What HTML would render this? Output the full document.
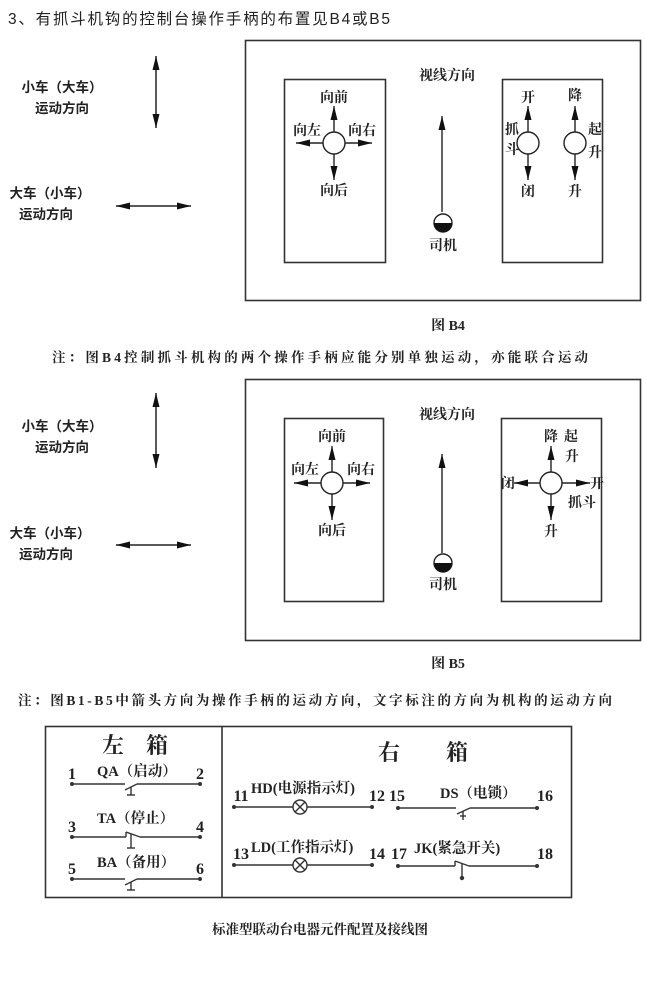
<!DOCTYPE html>
<html><head><meta charset="utf-8"><style>
html,body{margin:0;padding:0;background:#fff;}
svg{display:block;}
text{font-family:"Liberation Serif","Noto Serif CJK SC","Noto Sans CJK SC",serif;fill:#222;}
.s{font-family:"Liberation Sans","Noto Sans CJK SC",sans-serif;}
.b{font-weight:bold;}
</style></head><body>
<svg width="646" height="1000" viewBox="0 0 646 1000" xmlns="http://www.w3.org/2000/svg">
<defs>
<marker id="a" viewBox="0 0 12 6" refX="12" refY="3" markerWidth="16" markerHeight="7" orient="auto-start-reverse" markerUnits="userSpaceOnUse"><path d="M0,0 L12,3 L0,6 Z" fill="#111"/></marker>
<marker id="a2" viewBox="0 0 12 6" refX="12" refY="3" markerWidth="18" markerHeight="7" orient="auto-start-reverse" markerUnits="userSpaceOnUse"><path d="M0,0 L12,3 L0,6 Z" fill="#111"/></marker>
</defs>
<text x="8" y="24" class="s" font-size="15.5" textLength="382">3、有抓斗机钩的控制台操作手柄的布置见B4或B5</text>

<!-- B4 -->
<g>
<text x="62" y="92" font-size="13.5" text-anchor="middle" class="s b">小车（大车）</text>
<text x="62" y="113" font-size="13.5" text-anchor="middle" class="s b">运动方向</text>
<line x1="156" y1="56" x2="156" y2="128" stroke="#222" stroke-width="1.5" marker-start="url(#a)" marker-end="url(#a)"/>
<text x="50" y="198" font-size="13.5" text-anchor="middle" class="s b">大车（小车）</text>
<text x="46" y="219" font-size="13.5" text-anchor="middle" class="s b">运动方向</text>
<line x1="116" y1="206" x2="191" y2="206" stroke="#222" stroke-width="1.5" marker-start="url(#a)" marker-end="url(#a)"/>

<rect x="245.5" y="40.5" width="395" height="260" fill="none" stroke="#333" stroke-width="1.6"/>
<rect x="284.5" y="79.5" width="101" height="183" fill="none" stroke="#333" stroke-width="1.6"/>
<rect x="502.5" y="79.5" width="100" height="183" fill="none" stroke="#333" stroke-width="1.6"/>
<text x="447" y="80" font-size="14" text-anchor="middle" class="b">视线方向</text>
<line x1="442" y1="212" x2="442" y2="116" stroke="#222" stroke-width="1.4" marker-end="url(#a2)"/>
<circle cx="443" cy="223" r="9" fill="#fff" stroke="#222" stroke-width="1.4"/>
<path d="M434,223 A9,9 0 0 0 452,223 Z" fill="#111"/>
<text x="443" y="250" font-size="14" text-anchor="middle" class="b">司机</text>

<circle cx="334" cy="143" r="11" fill="#fff" stroke="#222" stroke-width="1.4"/>
<line x1="334" y1="132" x2="334" y2="106" stroke="#222" stroke-width="1.4" marker-end="url(#a2)"/>
<line x1="334" y1="154" x2="334" y2="180" stroke="#222" stroke-width="1.4" marker-end="url(#a2)"/>
<line x1="323" y1="143" x2="296" y2="143" stroke="#222" stroke-width="1.4" marker-end="url(#a2)"/>
<line x1="345" y1="143" x2="372" y2="143" stroke="#222" stroke-width="1.4" marker-end="url(#a2)"/>
<text x="334" y="102" font-size="14" text-anchor="middle" class="b">向前</text>
<text x="307" y="135" font-size="14" text-anchor="middle" class="b">向左</text>
<text x="362" y="135" font-size="14" text-anchor="middle" class="b">向右</text>
<text x="334" y="195" font-size="14" text-anchor="middle" class="b">向后</text>

<circle cx="528" cy="143" r="11" fill="#fff" stroke="#222" stroke-width="1.4"/>
<line x1="528" y1="132" x2="528" y2="106" stroke="#222" stroke-width="1.4" marker-end="url(#a2)"/>
<line x1="528" y1="154" x2="528" y2="180" stroke="#222" stroke-width="1.4" marker-end="url(#a2)"/>
<text x="528" y="102" font-size="14" text-anchor="middle" class="b">开</text>
<text x="512" y="134" font-size="14" text-anchor="middle" class="b">抓</text>
<text x="512" y="154" font-size="14" text-anchor="middle" class="b">斗</text>
<text x="528" y="196" font-size="14" text-anchor="middle" class="b">闭</text>
<circle cx="575" cy="143" r="11" fill="#fff" stroke="#222" stroke-width="1.4"/>
<line x1="575" y1="132" x2="575" y2="106" stroke="#222" stroke-width="1.4" marker-end="url(#a2)"/>
<line x1="575" y1="154" x2="575" y2="180" stroke="#222" stroke-width="1.4" marker-end="url(#a2)"/>
<text x="575" y="100" font-size="14" text-anchor="middle" class="b">降</text>
<text x="595" y="134" font-size="14" text-anchor="middle" class="b">起</text>
<text x="595" y="157" font-size="14" text-anchor="middle" class="b">升</text>
<text x="575" y="196" font-size="14" text-anchor="middle" class="b">升</text>

<text x="448" y="330" font-size="14" text-anchor="middle" class="b">图 B4</text>
<text x="52" y="362" font-size="13.5" class="b" textLength="536">注：图B4控制抓斗机构的两个操作手柄应能分别单独运动，亦能联合运动</text>
</g>

<!-- B5 -->
<g>
<text x="62" y="431" font-size="13.5" text-anchor="middle" class="s b">小车（大车）</text>
<text x="62" y="452" font-size="13.5" text-anchor="middle" class="s b">运动方向</text>
<line x1="156" y1="393" x2="156" y2="468" stroke="#222" stroke-width="1.5" marker-start="url(#a)" marker-end="url(#a)"/>
<text x="50" y="538" font-size="13.5" text-anchor="middle" class="s b">大车（小车）</text>
<text x="46" y="559" font-size="13.5" text-anchor="middle" class="s b">运动方向</text>
<line x1="116" y1="545" x2="191" y2="545" stroke="#222" stroke-width="1.5" marker-start="url(#a)" marker-end="url(#a)"/>

<rect x="245.5" y="379.5" width="395" height="261" fill="none" stroke="#333" stroke-width="1.6"/>
<rect x="284.5" y="418.5" width="99" height="183" fill="none" stroke="#333" stroke-width="1.6"/>
<rect x="501.5" y="418.5" width="100" height="183" fill="none" stroke="#333" stroke-width="1.6"/>
<text x="447" y="419" font-size="14" text-anchor="middle" class="b">视线方向</text>
<line x1="442" y1="553" x2="442" y2="454" stroke="#222" stroke-width="1.4" marker-end="url(#a2)"/>
<circle cx="443" cy="563" r="9" fill="#fff" stroke="#222" stroke-width="1.4"/>
<path d="M434,563 A9,9 0 0 0 452,563 Z" fill="#111"/>
<text x="443" y="589" font-size="14" text-anchor="middle" class="b">司机</text>

<circle cx="332" cy="483" r="11" fill="#fff" stroke="#222" stroke-width="1.4"/>
<line x1="332" y1="472" x2="332" y2="446" stroke="#222" stroke-width="1.4" marker-end="url(#a2)"/>
<line x1="332" y1="494" x2="332" y2="520" stroke="#222" stroke-width="1.4" marker-end="url(#a2)"/>
<line x1="321" y1="483" x2="294" y2="483" stroke="#222" stroke-width="1.4" marker-end="url(#a2)"/>
<line x1="343" y1="483" x2="370" y2="483" stroke="#222" stroke-width="1.4" marker-end="url(#a2)"/>
<text x="332" y="441" font-size="14" text-anchor="middle" class="b">向前</text>
<text x="305" y="474" font-size="14" text-anchor="middle" class="b">向左</text>
<text x="361" y="474" font-size="14" text-anchor="middle" class="b">向右</text>
<text x="332" y="535" font-size="14" text-anchor="middle" class="b">向后</text>

<circle cx="551" cy="483" r="11" fill="#fff" stroke="#222" stroke-width="1.4"/>
<line x1="551" y1="472" x2="551" y2="446" stroke="#222" stroke-width="1.4" marker-end="url(#a2)"/>
<line x1="551" y1="494" x2="551" y2="520" stroke="#222" stroke-width="1.4" marker-end="url(#a2)"/>
<line x1="540" y1="483" x2="514" y2="483" stroke="#222" stroke-width="1.4" marker-end="url(#a2)"/>
<line x1="562" y1="483" x2="590" y2="483" stroke="#222" stroke-width="1.4" marker-end="url(#a2)"/>
<text x="551" y="441" font-size="14" text-anchor="middle" class="b">降</text>
<text x="571" y="441" font-size="14" text-anchor="middle" class="b">起</text>
<text x="572" y="461" font-size="14" text-anchor="middle" class="b">升</text>
<text x="508" y="488" font-size="14" text-anchor="middle" class="b">闭</text>
<text x="597" y="488" font-size="14" text-anchor="middle" class="b">开</text>
<text x="582" y="507" font-size="14" text-anchor="middle" class="b">抓斗</text>
<text x="551" y="536" font-size="14" text-anchor="middle" class="b">升</text>

<text x="448" y="668" font-size="14" text-anchor="middle" class="b">图 B5</text>
<text x="18" y="705" font-size="13.5" class="b" textLength="594">注：图B1-B5中箭头方向为操作手柄的运动方向，文字标注的方向为机构的运动方向</text>
</g>

<!-- electrical -->
<g stroke="#333" stroke-width="1.4" fill="none">
<rect x="45.5" y="726.5" width="526" height="171" stroke-width="1.6"/>
<line x1="222" y1="726" x2="222" y2="898" stroke-width="1.6"/>
<line x1="72" y1="784" x2="125" y2="784"/><line x1="125" y1="790" x2="137" y2="784"/><line x1="137" y1="784" x2="200" y2="784"/>
<line x1="131" y1="787" x2="131" y2="795"/><line x1="127" y1="795" x2="135" y2="795"/>
<line x1="72" y1="837" x2="126" y2="837"/><line x1="126" y1="832" x2="140" y2="837"/><line x1="126" y1="832" x2="126" y2="837"/><line x1="140" y1="837" x2="200" y2="837"/>
<line x1="131" y1="834" x2="131" y2="848"/><line x1="127" y1="848" x2="135" y2="848"/>
<line x1="72" y1="879" x2="125" y2="879"/><line x1="125" y1="885" x2="137" y2="879"/><line x1="137" y1="879" x2="200" y2="879"/>
<line x1="131" y1="882" x2="131" y2="890"/><line x1="127" y1="890" x2="135" y2="890"/>
<line x1="234" y1="807" x2="293" y2="807"/><circle cx="300" cy="807" r="7"/><line x1="295" y1="802" x2="305" y2="812"/><line x1="305" y1="802" x2="295" y2="812"/><line x1="307" y1="807" x2="372" y2="807"/>
<line x1="234" y1="865" x2="293" y2="865"/><circle cx="300" cy="865" r="7"/><line x1="295" y1="860" x2="305" y2="870"/><line x1="305" y1="860" x2="295" y2="870"/><line x1="307" y1="865" x2="372" y2="865"/>
<line x1="398" y1="808" x2="456" y2="808"/><line x1="457" y1="814" x2="470" y2="808"/><line x1="470" y1="808" x2="537" y2="808"/>
<line x1="463" y1="811" x2="463" y2="820"/><line x1="460" y1="816" x2="466" y2="816"/>
<line x1="398" y1="866" x2="455" y2="866"/><line x1="455" y1="861" x2="469" y2="866"/><line x1="455" y1="861" x2="455" y2="866"/><line x1="469" y1="866" x2="537" y2="866"/>
<line x1="462" y1="864" x2="462" y2="877"/><circle cx="462" cy="878" r="1.5" fill="#333"/>
</g>
<g fill="#333">
<circle cx="72" cy="784" r="2"/><circle cx="200" cy="784" r="2"/>
<circle cx="72" cy="837" r="2"/><circle cx="200" cy="837" r="2"/>
<circle cx="72" cy="879" r="2"/><circle cx="200" cy="879" r="2"/>
<circle cx="234" cy="807" r="2"/><circle cx="372" cy="807" r="2"/>
<circle cx="234" cy="865" r="2"/><circle cx="372" cy="865" r="2"/>
<circle cx="398" cy="808" r="2"/><circle cx="537" cy="808" r="2"/>
<circle cx="398" cy="866" r="2"/><circle cx="537" cy="866" r="2"/>
</g>
<g font-size="14.5" class="b">
<text x="102" y="753" font-size="22">左</text><text x="146" y="753" font-size="22">箱</text>
<text x="378" y="760" font-size="22">右</text><text x="446" y="760" font-size="22">箱</text>
<text x="97" y="776">QA（启动）</text>
<text x="72" y="779" font-size="16" text-anchor="middle">1</text><text x="200" y="779" font-size="16" text-anchor="middle">2</text>
<text x="97" y="823">TA（停止）</text>
<text x="72" y="832" font-size="16" text-anchor="middle">3</text><text x="200" y="832" font-size="16" text-anchor="middle">4</text>
<text x="97" y="867">BA（备用）</text>
<text x="72" y="874" font-size="16" text-anchor="middle">5</text><text x="200" y="874" font-size="16" text-anchor="middle">6</text>
<text x="251" y="793">HD(电源指示灯)</text>
<text x="241" y="801" font-size="16" text-anchor="middle">11</text><text x="377" y="801" font-size="16" text-anchor="middle">12</text>
<text x="440" y="798">DS（电锁）</text>
<text x="397" y="801" font-size="16" text-anchor="middle">15</text><text x="545" y="801" font-size="16" text-anchor="middle">16</text>
<text x="251" y="852">LD(工作指示灯)</text>
<text x="241" y="859" font-size="16" text-anchor="middle">13</text><text x="377" y="859" font-size="16" text-anchor="middle">14</text>
<text x="399" y="859" font-size="16" text-anchor="middle">17</text>
<text x="414" y="853">JK(紧急开关)</text>
<text x="545" y="859" font-size="16" text-anchor="middle">18</text>
</g>
<text x="320" y="934" font-size="13.5" text-anchor="middle" class="b">标准型联动台电器元件配置及接线图</text>
</svg>
</body></html>
